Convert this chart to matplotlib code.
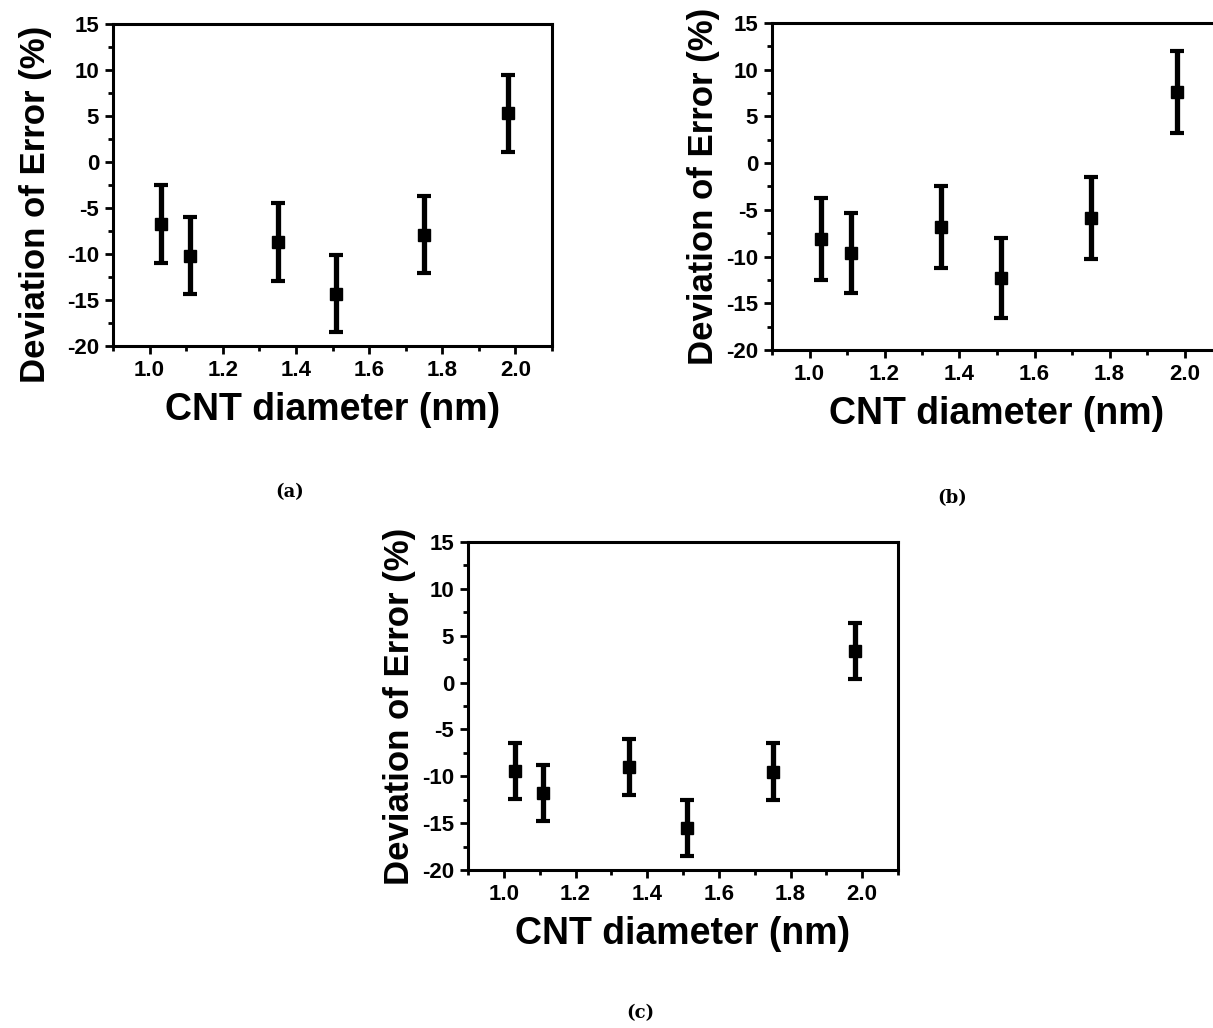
import matplotlib
matplotlib.use('Agg')
import matplotlib.pyplot as plt
from matplotlib.ticker import MultipleLocator

plt.rcParams['font.family'] = ['Liberation Sans', 'DejaVu Sans']
plt.rcParams['font.weight'] = 'bold'
plt.rcParams['axes.unicode_minus'] = False

# CNT diameters (nm), same for all three panels
diameter = [1.03, 1.11, 1.35, 1.51, 1.75, 1.98]

# panel (a)
dev_a = [-6.7, -10.2, -8.7, -14.3, -7.9, 5.3]
err_a = [4.25, 4.2, 4.2, 4.2, 4.2, 4.2]
# panel (b)
dev_b = [-8.1, -9.6, -6.8, -12.3, -5.9, 7.6]
err_b = [4.4, 4.3, 4.4, 4.3, 4.4, 4.4]
# panel (c)
dev_c = [-9.4, -11.8, -9.0, -15.5, -9.5, 3.4]
err_c = [3.0, 3.0, 3.0, 3.0, 3.05, 3.0]

x_ticks = [1.0, 1.2, 1.4, 1.6, 1.8, 2.0]
y_ticks = [-20, -15, -10, -5, 0, 5, 10, 15]

W, H = 1213, 1028
fig = plt.figure(figsize=(W / 100, H / 100), dpi=100)

def px_axes(left, top, right, bottom):
    return fig.add_axes([left / W, 1 - bottom / H, (right - left) / W, (bottom - top) / H])

panels = [
    (px_axes(113, 24, 552, 346), dev_a, err_a),
    (px_axes(772, 23, 1222, 350), dev_b, err_b),
    (px_axes(468, 542, 898, 870), dev_c, err_c),
]

for ax, dev, err in panels:
    ax.errorbar(diameter, dev, yerr=err, fmt='s', color='black', ms=8,
                elinewidth=3.8, capsize=5, capthick=3)
    ax.set_xlim(0.9, 2.1)
    ax.set_ylim(-20, 15)
    ax.set_xticks(x_ticks)
    ax.set_yticks(y_ticks)
    ax.xaxis.set_minor_locator(MultipleLocator(0.1))
    ax.yaxis.set_minor_locator(MultipleLocator(2.5))
    ax.tick_params(which='both', direction='out', top=False, right=False,
                   width=2, labelsize=16, pad=4)
    ax.tick_params(which='major', length=6)
    ax.tick_params(which='minor', length=3.5)
    for s in ax.spines.values():
        s.set_linewidth(2.2)
    for lab in ax.get_xticklabels() + ax.get_yticklabels():
        lab.set_fontweight('bold')
    ax.set_xlabel('CNT diameter (nm)', fontsize=27, fontweight='bold', labelpad=8)
    ax.set_ylabel('Deviation of Error (%)', fontsize=25, fontweight='bold', labelpad=4)

# label of panel (a) sits a bit lower in the scan
panels[0][0].yaxis.set_label_coords(-0.14, 0.44)

fig.text(290 / W, 1 - 492 / H, '(a)', ha='center', va='center', fontsize=13,
         family='DejaVu Serif', fontweight='bold')
fig.text(952 / W, 1 - 498 / H, '(b)', ha='center', va='center', fontsize=13,
         family='DejaVu Serif')
fig.text(640 / W, 1 - 1013 / H, '(c)', ha='center', va='center', fontsize=13,
         family='DejaVu Serif', fontweight='bold')

fig.savefig('out.png', dpi=100)
